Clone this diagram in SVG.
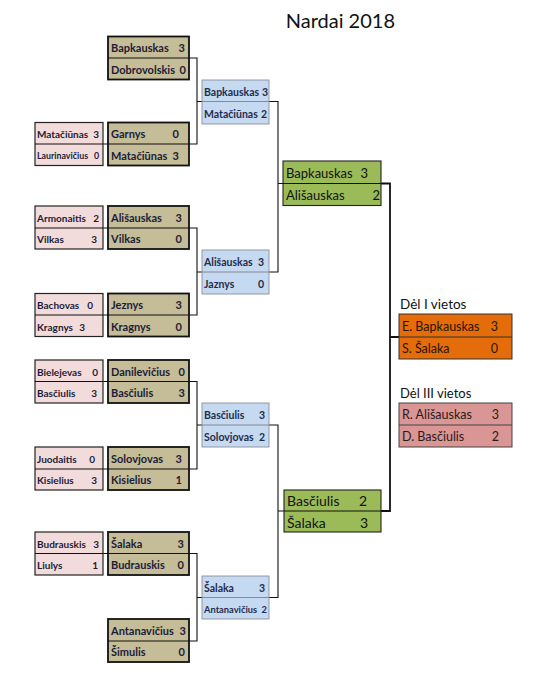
<svg xmlns="http://www.w3.org/2000/svg" width="535" height="675" viewBox="0 0 535 675">
<style>
text{font-family:Lato,"Liberation Sans",sans-serif}
.tan{fill:#C4BD97;stroke:#111;stroke-width:1.8}
.pink{fill:#F2DCDB;stroke:#222;stroke-width:1.2}
.blue{fill:#C5D9F1;stroke:#8a8f99;stroke-width:0.9}
.green{fill:#9BBB59;stroke:#222;stroke-width:1.1}
.orange{fill:#E46C0A;stroke:#333;stroke-width:1}
.rose{fill:#DA9694;stroke:#444;stroke-width:1}
.div{stroke:#111;stroke-width:1.2}
.divb{stroke:#7a808a;stroke-width:0.9}
.tt{font-size:11px;font-weight:bold;fill:#1c1c38}
.pt{font-size:10px;font-weight:bold;fill:#1c1c38}
.ps{font-size:8.8px;font-weight:bold;fill:#1c1c38}
.bt{font-size:10.5px;font-weight:bold;fill:#1f2d4d}
.bs{font-size:9.3px;font-weight:bold;fill:#1f2d4d}
.gt{font-size:13px;fill:#111}
.gt2{font-size:14px;fill:#111}
.ft{font-size:12.5px;fill:#2a1400}
.rt{font-size:12.5px;fill:#2a1a1a}
.e{text-anchor:end}
.c1{stroke:#111;stroke-width:1.1;fill:none}
.c2{stroke:#111;stroke-width:1.8;fill:none}
</style>
<text x="395" y="28" class="e" style="font-size:20px;fill:#111">Nardai 2018</text>
<g id="connectors">
<path class="c1" d="M103 144H108M103 228H108M103 315H108M103 381.5H108M103 469H108M103 553.5H108"/>
<path class="c1" d="M189 58H197V144H189M197 101.5H202"/>
<path class="c1" d="M189 228H197V315H189M197 272H202"/>
<path class="c1" d="M189 381.5H197V469H189M197 425H202"/>
<path class="c1" d="M189 553.5H197V641H189M197 597.5H202"/>
<path class="c1" d="M269 101.5H278V272H269M269 425H278V597.5H269"/>
<path class="c1" d="M278 183.5H283M278 511H284"/>
<path class="c2" d="M381 183.5H390V511H381M390 337H399"/>
</g>
<g id="r1-1"><rect class="tan" x="108" y="36.5" width="81" height="43"/><line class="div" x1="108" y1="58" x2="189" y2="58"/><text class="tt" x="111" y="52">Bapkauskas</text><text class="tt e" x="185" y="52">3</text><text class="tt" x="111" y="73.5">Dobrovolskis</text><text class="tt e" x="186" y="73.5">0</text></g>
<g id="r1-2"><rect class="tan" x="108" y="122.5" width="81" height="43"/><line class="div" x1="108" y1="144" x2="189" y2="144"/><text class="tt" x="111" y="138">Garnys</text><text class="tt e" x="179" y="138">0</text><text class="tt" x="111" y="159.5">Matačiūnas</text><text class="tt e" x="179" y="159.5">3</text></g>
<g id="r1-3"><rect class="tan" x="108" y="206" width="81" height="43"/><line class="div" x1="108" y1="228" x2="189" y2="228"/><text class="tt" x="111" y="221.5">Ališauskas</text><text class="tt e" x="182" y="221.5">3</text><text class="tt" x="111" y="243">Vilkas</text><text class="tt e" x="182" y="243">0</text></g>
<g id="r1-4"><rect class="tan" x="108" y="293.5" width="81" height="43"/><line class="div" x1="108" y1="315" x2="189" y2="315"/><text class="tt" x="111" y="309">Jeznys</text><text class="tt e" x="182" y="309">3</text><text class="tt" x="111" y="330.5">Kragnys</text><text class="tt e" x="182" y="330.5">0</text></g>
<g id="r1-5"><rect class="tan" x="108" y="360" width="81" height="43"/><line class="div" x1="108" y1="381.5" x2="189" y2="381.5"/><text class="tt" x="111" y="375.5">Danilevičius</text><text class="tt e" x="185" y="375.5">0</text><text class="tt" x="111" y="397">Basčiulis</text><text class="tt e" x="185" y="397">3</text></g>
<g id="r1-6"><rect class="tan" x="108" y="447" width="81" height="43"/><line class="div" x1="108" y1="469" x2="189" y2="469"/><text class="tt" x="111" y="462.5">Solovjovas</text><text class="tt e" x="182" y="462.5">3</text><text class="tt" x="111" y="484">Kisielius</text><text class="tt e" x="182" y="484">1</text></g>
<g id="r1-7"><rect class="tan" x="108" y="532" width="81" height="43"/><line class="div" x1="108" y1="553.5" x2="189" y2="553.5"/><text class="tt" x="111" y="547.5">Šalaka</text><text class="tt e" x="184" y="547.5">3</text><text class="tt" x="111" y="569">Budrauskis</text><text class="tt e" x="184" y="569">0</text></g>
<g id="r1-8"><rect class="tan" x="108" y="619" width="81" height="43"/><line class="div" x1="108" y1="641" x2="189" y2="641"/><text class="tt" x="111" y="634.5">Antanavičius</text><text class="tt e" x="186" y="634.5">3</text><text class="tt" x="111" y="656">Šimulis</text><text class="tt e" x="185" y="656">0</text></g>
<g id="q-2"><rect class="pink" x="35" y="122.5" width="68" height="43"/><line class="div" x1="35" y1="144" x2="103" y2="144"/><text class="pt" x="37" y="137.5">Matačiūnas</text><text class="pt e" x="99" y="137.5">3</text><text class="ps" x="37" y="159">Laurinavičius</text><text class="ps e" x="99" y="159">0</text></g>
<g id="q-3"><rect class="pink" x="35" y="206" width="68" height="43"/><line class="div" x1="35" y1="228" x2="103" y2="228"/><text class="pt" x="37" y="221.5">Armonaitis</text><text class="pt e" x="99" y="221.5">2</text><text class="pt" x="37" y="243">Vilkas</text><text class="pt e" x="97" y="243">3</text></g>
<g id="q-4"><rect class="pink" x="35" y="293.5" width="68" height="43"/><line class="div" x1="35" y1="315" x2="103" y2="315"/><text class="pt" x="37" y="309">Bachovas</text><text class="pt e" x="93" y="309">0</text><text class="pt" x="37" y="330.5">Kragnys</text><text class="pt e" x="85" y="330.5">3</text></g>
<g id="q-5"><rect class="pink" x="35" y="360" width="68" height="43"/><line class="div" x1="35" y1="381.5" x2="103" y2="381.5"/><text class="pt" x="37" y="375.5">Bielejevas</text><text class="pt e" x="98" y="375.5">0</text><text class="pt" x="37" y="397">Basčiulis</text><text class="pt e" x="97" y="397">3</text></g>
<g id="q-6"><rect class="pink" x="35" y="447" width="68" height="43"/><line class="div" x1="35" y1="469" x2="103" y2="469"/><text class="pt" x="37" y="462.5">Juodaitis</text><text class="pt e" x="95" y="462.5">0</text><text class="pt" x="37" y="484">Kisielius</text><text class="pt e" x="97" y="484">3</text></g>
<g id="q-7"><rect class="pink" x="35" y="532" width="68" height="43"/><line class="div" x1="35" y1="553.5" x2="103" y2="553.5"/><text class="pt" x="37" y="547.5">Budrauskis</text><text class="pt e" x="99" y="547.5">3</text><text class="pt" x="37" y="569">Liulys</text><text class="pt e" x="98" y="569">1</text></g>
<g id="r2-1"><rect class="blue" x="202" y="80" width="67" height="44"/><line class="divb" x1="202" y1="101.5" x2="269" y2="101.5"/><text class="bt" x="204" y="96">Bapkauskas</text><text class="bt e" x="268" y="96">3</text><text class="bt" x="204" y="118">Matačiūnas</text><text class="bt e" x="267" y="118">2</text></g>
<g id="r2-2"><rect class="blue" x="202" y="250" width="67" height="44"/><line class="divb" x1="202" y1="272" x2="269" y2="272"/><text class="bt" x="204" y="266">Ališauskas</text><text class="bt e" x="264" y="266">3</text><text class="bt" x="204" y="288">Jaznys</text><text class="bt e" x="264" y="288">0</text></g>
<g id="r2-3"><rect class="blue" x="202" y="403" width="67" height="44"/><line class="divb" x1="202" y1="425" x2="269" y2="425"/><text class="bt" x="204" y="419">Basčiulis</text><text class="bt e" x="265" y="419">3</text><text class="bt" x="204" y="441">Solovjovas</text><text class="bt e" x="265" y="441">2</text></g>
<g id="r2-4"><rect class="blue" x="202" y="576" width="67" height="43"/><line class="divb" x1="202" y1="597.5" x2="269" y2="597.5"/><text class="bt" x="204" y="592">Šalaka</text><text class="bt e" x="265" y="592">3</text><text class="bs" x="204" y="613">Antanavičius</text><text class="bs e" x="267" y="613">2</text></g>
<g id="sf-1"><rect class="green" x="283" y="161" width="98" height="44.5"/><line class="div" x1="283" y1="183.5" x2="381" y2="183.5"/><text class="gt" x="286" y="177.5">Bapkauskas</text><text class="gt e" x="368" y="177.5">3</text><text class="gt" x="286" y="200">Ališauskas</text><text class="gt e" x="380" y="200">2</text></g>
<g id="sf-2"><rect class="green" x="284" y="490" width="97" height="42"/><line class="div" x1="284" y1="511" x2="381" y2="511"/><text class="gt2" x="287" y="506">Basčiulis</text><text class="gt2 e" x="367" y="506">2</text><text class="gt2" x="287" y="527.5">Šalaka</text><text class="gt2 e" x="368" y="527.5">3</text></g>
<g id="final-1">
<text x="400" y="309" style="font-size:13.5px;fill:#111">Dėl I vietos</text>
<rect class="orange" x="399" y="314" width="113" height="45"/><line stroke="#333" stroke-width="1" x1="399" y1="337" x2="512" y2="337"/>
<text class="ft" x="402" y="330.5">E. Bapkauskas</text><text class="ft e" x="498" y="330.5">3</text><text class="ft" x="402" y="353">S. Šalaka</text><text class="ft e" x="498" y="353">0</text>
</g>
<g id="final-3">
<text x="400" y="398" style="font-size:13px;fill:#111">Dėl III vietos</text>
<rect class="rose" x="399" y="403" width="113" height="44"/><line stroke="#444" stroke-width="1" x1="399" y1="425" x2="512" y2="425"/>
<text class="rt" x="402" y="419">R. Ališauskas</text><text class="rt e" x="499" y="419">3</text><text class="rt" x="402" y="441">D. Basčiulis</text><text class="rt e" x="499" y="441">2</text>
</g>
</svg>
